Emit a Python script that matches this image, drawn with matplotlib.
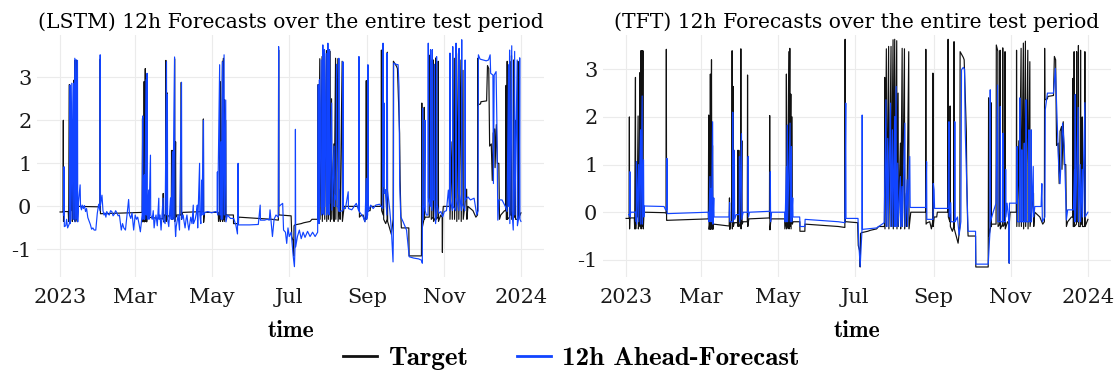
import matplotlib

matplotlib.use("Agg")
import matplotlib.pyplot as plt
import pandas as pd
from matplotlib.lines import Line2D

START = pd.Timestamp("2023-01-01")

# (day since 2023-01-01, value)
target_pts = [
    (0, -0.13), (2.4, -0.13), (2.6, 2.0), (2.75, -0.35), (3.0, -0.12), (6.5, -0.12), (6.8, -0.35),
    (7.4, 2.83), (7.6, -0.35), (8.0, -0.1), (8.7, -0.1), (9.5, 2.02), (9.7, -0.35), (10.3, -0.2),
    (10.9, 2.93), (11.1, -0.3), (11.7, 3.39), (11.9, -0.35), (12.5, 3.39), (12.7, -0.3), (13.3, 3.39),
    (13.6, -0.35), (14.2, 0.0), (30.5, -0.01), (31.6, -0.02), (31.8, 3.42), (32.0, -0.17), (32.5, -0.17),
    (65.0, -0.14), (65.3, 2.04), (65.6, -0.36), (66.3, -0.2), (66.6, 2.9), (66.9, -0.36), (67.5, 3.2),
    (67.8, -0.35), (68.3, 1.4), (68.6, -0.36), (69.0, -0.25), (81.5, -0.29), (81.7, 0.3), (82.0, -0.36),
    (82.5, -0.2), (83.6, -0.2), (83.8, 3.39), (84.0, -0.35), (84.6, 2.64), (84.8, -0.3), (85.5, -0.22),
    (88.1, -0.22), (88.3, 1.3), (88.5, -0.3), (89.1, 1.3), (89.3, -0.3), (90.5, -0.25), (90.7, 3.43),
    (90.9, -0.35), (91.5, 1.5), (91.7, -0.25), (92.5, -0.2), (95.8, -0.2), (96.0, 2.88), (96.2, -0.3),
    (97.0, -0.14), (113.3, -0.12), (113.5, 2.03), (113.7, -0.37), (114.5, -0.14), (125.3, -0.14),
    (125.5, -0.35), (126.5, -0.2), (126.7, 2.9), (126.9, -0.35), (127.5, -0.3), (128.6, 3.37),
    (128.8, -0.35), (129.4, 3.44), (129.6, -0.3), (130.2, 2.48), (130.4, -0.35), (131.2, 2.0),
    (131.4, -0.25), (132.0, -0.2), (137.3, -0.2), (137.4, -0.4), (141.3, -0.4), (141.4, -0.25),
    (167.8, -0.3), (172.9, -0.32), (173.1, 3.63), (173.3, -0.2), (174.0, -0.2), (183.0, -0.22),
    (183.5, -0.7), (184.5, -0.8), (185.0, -1.15), (185.3, -0.45), (186.0, -0.43), (191.0, -0.4),
    (193.0, -0.38), (198.0, -0.35), (199.5, -0.3), (204.2, -0.3), (204.4, 2.83), (204.6, -0.35),
    (205.7, 3.43), (205.9, -0.3), (207.5, 3.48), (207.7, -0.35), (209.4, 3.48), (209.6, -0.3),
    (211.0, 3.62), (211.2, -0.35), (212.3, 3.63), (212.5, -0.3), (213.9, 3.6), (214.1, -0.35),
    (215.0, 2.5), (215.2, -0.3), (216.8, 1.45), (217.0, -0.35), (218.2, 3.44), (218.4, -0.3),
    (220.0, 3.43), (220.2, -0.35), (221.6, 0.4), (221.8, -0.3), (223.4, 3.37), (223.6, -0.35),
    (225.0, 0.0), (236.7, 0.0), (236.9, 3.42), (237.1, -0.25), (238.0, -0.22), (240.0, -0.2),
    (241.3, -0.35), (242.3, -0.2), (242.5, 2.92), (242.7, -0.3), (243.5, -0.1), (245.5, -0.1),
    (246.0, 0.0), (254.3, 0.0), (254.5, 3.63), (254.7, -0.1), (255.9, -0.2), (256.1, 2.23),
    (256.3, -0.3), (257.9, -0.4), (259.0, -0.3), (259.2, 3.58), (259.4, -0.35), (262.4, -0.65),
    (263.8, -0.3), (264.0, 3.37), (266.5, 3.25), (267.2, 3.2), (268.9, 1.7), (269.3, 0.6),
    (270.0, -0.3), (270.3, -0.5), (276.2, -0.5), (276.4, -1.15), (286.2, -1.15), (286.5, 2.4),
    (286.8, -0.5), (288.2, -0.3), (288.4, 2.3), (288.6, -0.3), (289.0, -0.25), (292.4, -0.25),
    (292.6, 3.51), (293.8, 3.38), (294.0, -0.3), (295.4, -0.25), (295.6, 3.4), (295.8, -0.35),
    (297.5, -0.25), (297.7, 3.45), (297.9, -0.3), (299.3, -0.25), (299.5, 3.37), (299.7, -0.35),
    (301.5, -0.2), (302.6, -0.25), (302.8, -1.07), (303.0, -0.2), (303.5, 0.0), (308.4, 0.0),
    (308.6, 3.4), (308.8, -0.3), (310.4, 1.5), (310.6, -0.3), (312.2, 3.44), (312.4, -0.3),
    (314.0, 3.55), (314.2, -0.35), (315.6, 3.59), (315.8, -0.3), (317.5, 3.4), (317.7, -0.35),
    (319.1, 3.16), (319.3, -0.3), (322.0, 0.4), (322.2, -0.3), (323.0, 0.0), (327.0, -0.1),
    (329.3, -0.25), (330.6, -0.2), (330.8, 3.44), (331.0, 2.36), (333.0, 2.38), (333.3, 2.43),
    (337.8, 2.45), (338.5, 3.27), (339.5, 3.2), (340.2, 1.4), (341.5, 1.45), (342.3, 0.6),
    (343.0, 1.7), (344.2, 1.8), (344.5, 0.9), (345.5, 1.9), (346.3, 1.0), (347.5, 1.0), (348.0, -0.3),
    (349.0, -0.2), (352.0, -0.1), (353.0, -0.1), (353.2, 2.81), (353.4, -0.3), (353.9, -0.3),
    (354.1, 3.37), (354.3, -0.3), (355.9, -0.25), (356.1, 3.37), (356.3, -0.2), (357.3, -0.2),
    (357.5, 3.5), (357.7, -0.3), (359.0, -0.3), (359.2, 3.4), (359.4, -0.25), (360.3, -0.25),
    (360.5, 2.0), (360.7, -0.3), (362.4, -0.3), (362.6, 3.37), (362.8, -0.3), (365.0, -0.15),
]

lstm_pts = [
    (2.7, -0.2), (3.2, 0.92), (3.4, -0.47), (4.5, -0.45), (5.2, -0.3), (6.0, -0.5), (7.4, -0.4),
    (8.0, 2.82), (8.2, -0.4), (9.3, 2.86), (9.5, -0.3), (10.6, 2.86), (10.8, -0.3), (11.7, 3.44),
    (11.9, -0.36), (12.7, 3.41), (12.9, -0.3), (13.8, 3.39), (14.0, -0.36), (14.6, 0.1), (15.9, 0.5),
    (16.2, 0.0), (17.0, -0.08), (17.5, 0.03), (18.5, -0.05), (19.3, 0.02), (20.2, -0.12),
    (21.0, -0.05), (22.0, -0.26), (23.2, -0.36), (24.0, -0.42), (25.0, -0.53), (26.0, -0.5),
    (27.0, -0.55), (28.3, -0.55), (29.5, -0.16), (30.6, 0.05), (31.6, -0.1), (31.8, 3.52),
    (32.0, 0.03), (33.2, 0.26), (34.0, -0.1), (34.8, -0.2), (35.5, -0.15), (36.3, -0.25),
    (37.0, -0.12), (38.0, -0.18), (39.0, -0.2), (40.0, -0.1), (41.0, -0.12), (42.0, -0.22),
    (43.0, -0.18), (44.0, -0.1), (45.0, -0.15), (46.0, -0.22), (47.0, -0.2), (48.5, -0.55),
    (49.5, -0.4), (50.5, -0.5), (51.8, -0.55), (53.0, -0.2), (54.3, 0.16), (55.0, -0.2),
    (56.0, -0.28), (57.0, -0.15), (58.3, -0.55), (59.5, -0.2), (60.5, -0.3), (61.5, -0.25),
    (62.5, -0.4), (63.6, -0.59), (65.0, -0.2), (65.5, 2.1), (65.7, -0.3), (66.3, 0.2), (66.8, 0.73),
    (67.0, -0.3), (68.1, 2.94), (68.3, -0.2), (68.9, 3.09), (69.1, -0.3), (70.2, 0.38), (70.4, -0.3),
    (71.6, 1.19), (71.8, -0.2), (73.0, -0.3), (73.8, -0.1), (74.5, -0.5), (75.3, -0.3), (76.0, -0.2),
    (77.0, -0.45), (78.2, 0.19), (78.4, -0.3), (79.2, -0.2), (80.0, -0.55), (81.6, 0.19),
    (81.8, -0.3), (83.2, -0.4), (84.3, 3.36), (84.5, -0.2), (85.0, 2.6), (85.2, -0.3), (86.1, -0.47),
    (87.5, 0.2), (88.0, -0.3), (89.1, 1.27), (89.3, -0.3), (90.7, 3.47), (90.9, -0.3), (91.5, -0.7),
    (92.0, -0.47), (93.5, -0.2), (94.6, -0.55), (96.2, 2.88), (96.4, -0.3), (97.5, -0.2),
    (98.2, -0.35), (99.0, -0.5), (99.8, -0.3), (100.5, -0.2), (101.2, -0.4), (102.0, -0.55),
    (103.5, -0.25), (104.5, -0.4), (105.5, 0.03), (105.7, -0.4), (107.0, -0.3), (108.0, -0.15),
    (108.7, 0.03), (109.0, -0.5), (110.5, 1.0), (110.7, -0.2), (111.5, -0.4), (112.1, 0.61),
    (112.3, -0.2), (113.6, 2.0), (113.8, -0.2), (114.0, -0.15), (117.0, -0.12), (120.0, -0.15),
    (123.0, -0.12), (124.4, -0.15), (124.6, 0.8), (124.8, -0.2), (126.4, 3.29), (126.6, -0.2),
    (127.5, 1.5), (127.7, -0.3), (128.6, 3.36), (128.8, -0.3), (129.9, 3.52), (130.1, -0.2),
    (131.2, 2.47), (131.4, -0.36), (132.5, -0.2), (135.0, -0.28), (137.5, -0.28), (139.2, -0.43),
    (140.5, -0.64), (141.0, 1.0), (141.2, -0.43), (150.0, -0.43), (157.0, -0.42), (158.5, 0.03),
    (158.7, -0.32), (162.0, -0.32), (164.0, -0.3), (165.7, -0.32), (166.3, -0.08), (168.2, -0.7),
    (169.5, -0.3), (171.0, -0.2), (172.9, -0.25), (173.1, 3.71), (173.3, 0.0), (176.3, 0.07),
    (177.0, -0.55), (178.5, -0.6), (179.5, -0.86), (180.5, -0.5), (181.5, -0.7), (183.0, -0.6),
    (184.7, -1.17), (185.6, -1.4), (186.2, -0.8), (186.4, 1.79), (186.6, -0.94), (188.0, -0.7),
    (189.5, -0.55), (191.0, -0.75), (192.5, -0.6), (194.0, -0.72), (196.0, -0.58), (198.0, -0.7),
    (200.0, -0.6), (202.0, -0.7), (204.0, -0.6), (204.5, 2.82), (204.7, -0.3), (205.2, -0.4),
    (205.4, 2.94), (205.6, -0.01), (206.8, 3.4), (207.0, -0.2), (207.9, -0.1), (208.1, 3.75),
    (208.3, -0.16), (209.2, -0.2), (209.4, 3.64), (209.6, 0.0), (210.8, 3.55), (211.0, -0.2),
    (211.9, -0.1), (212.1, 3.79), (212.3, -0.1), (213.2, -0.2), (213.4, 3.64), (213.6, 0.07),
    (215.1, 2.4), (215.3, -0.09), (217.0, 1.4), (217.2, 0.0), (217.4, 0.26), (218.5, 0.15),
    (219.0, 3.3), (219.2, 0.0), (220.0, 0.0), (220.6, -0.1), (220.8, 3.44), (221.0, -0.12),
    (223.8, -0.1), (224.0, 3.36), (224.2, -0.05), (226.0, -0.05), (228.2, 0.34), (228.4, -0.05),
    (231.0, -0.08), (234.6, 0.07), (236.5, -0.1), (236.7, 3.48), (236.9, -0.12), (240.0, -0.24),
    (241.5, -0.36), (242.5, 0.65), (242.8, -0.3), (243.6, -0.2), (243.8, 3.29), (244.0, -0.12),
    (246.0, 0.03), (248.0, -0.05), (250.0, 0.03), (253.0, 0.05), (255.6, -0.05), (255.8, 3.79),
    (256.0, 0.46), (256.6, 2.4), (256.8, 0.3), (257.5, 0.39), (258.8, -0.2), (259.0, 3.56),
    (259.2, 0.38), (260.0, 0.2), (261.1, -0.08), (262.4, -0.55), (263.7, -1.29), (264.0, -0.5),
    (264.2, 3.33), (266.0, 3.3), (267.7, 3.29), (268.4, 2.78), (269.0, 0.5), (269.8, -0.24),
    (271.7, -0.36), (274.4, -0.55), (276.5, -1.17), (280.0, -1.2), (284.0, -1.22), (286.2, -1.25),
    (286.9, -1.32), (287.1, 2.28), (287.3, -0.32), (288.5, 0.07), (289.0, 2.0), (289.2, -0.1),
    (290.0, -0.2), (291.4, -0.2), (291.6, 3.79), (291.8, 0.2), (293.2, 0.0), (293.4, 3.64),
    (293.6, 0.1), (294.6, -0.1), (294.8, 3.64), (295.0, 0.15), (296.0, 0.15), (296.5, 3.3),
    (296.7, 0.0), (297.4, -0.4), (298.0, -0.2), (298.2, 3.48), (298.4, 0.07), (300.0, -0.16),
    (301.6, -0.12), (303.0, -0.24), (304.3, -0.12), (306.0, -0.1), (307.5, 0.38), (308.6, -0.1),
    (308.8, 3.56), (309.0, 0.15), (310.8, -0.1), (311.0, 3.71), (311.2, 0.0), (313.4, -0.1),
    (313.6, 3.79), (313.8, 0.22), (315.8, -0.1), (316.0, 3.67), (316.2, 0.3), (317.9, -0.1),
    (318.1, 3.87), (318.3, 0.07), (320.6, -0.1), (320.8, 3.4), (321.0, 0.15), (323.0, 0.22),
    (325.0, 0.15), (327.9, 0.19), (330.0, -0.2), (331.1, -0.1), (331.3, 3.52), (332.6, 3.42),
    (335.0, 3.4), (337.5, 3.38), (339.3, 3.4), (340.6, 3.52), (341.0, 3.09), (342.8, 3.05),
    (343.2, 0.53), (343.8, 3.05), (345.3, 3.13), (345.9, 2.0), (346.7, -0.32), (347.5, 0.15),
    (350.0, 0.15), (352.6, 0.0), (354.0, -0.12), (355.2, 3.29), (355.4, 0.0), (356.0, 3.63),
    (356.2, -0.4), (357.7, 3.73), (357.9, -0.1), (358.9, -0.55), (360.0, 3.6), (360.2, -0.2),
    (362.0, 3.4), (362.2, -0.45), (363.6, -0.2), (364.0, 3.45), (364.2, -0.3), (365.0, -0.35),
]

tft_pts = [
    (2.0, -0.05), (2.8, -0.05), (3.0, 0.85), (3.2, -0.1), (3.6, 0.0), (7.8, 0.0), (8.0, -0.2),
    (8.2, 1.06), (8.4, -0.25), (9.8, 1.0), (10.0, -0.2), (11.4, 1.73), (11.6, -0.25), (12.7, 2.44),
    (12.9, -0.25), (13.8, 1.1), (14.0, -0.1), (14.5, 0.13), (30.0, 0.12), (31.2, 0.05), (32.0, 0.05),
    (32.3, 1.13), (32.5, -0.03), (65.0, 0.0), (65.5, -0.2), (66.3, 0.75), (66.5, -0.2), (67.2, 0.5),
    (67.4, -0.2), (68.4, 1.9), (68.6, -0.25), (69.3, 0.3), (69.5, -0.1), (81.4, -0.1), (81.8, 0.2),
    (82.0, -0.2), (84.1, -0.2), (84.3, 2.1), (84.5, -0.2), (85.6, 1.3), (85.8, -0.15), (87.0, -0.05),
    (89.4, -0.05), (89.6, 1.17), (89.8, -0.2), (91.2, 1.65), (91.4, -0.15), (92.5, 0.0), (96.3, 0.0),
    (96.5, 1.17), (96.7, -0.1), (97.5, 0.0), (113.8, 0.02), (114.0, 0.85), (114.2, -0.2), (115.0, 0.0),
    (125.5, 0.0), (125.7, -0.2), (126.7, 0.95), (126.9, -0.2), (127.5, 1.83), (127.7, -0.2),
    (129.6, 1.87), (129.8, -0.2), (130.7, 1.38), (130.9, -0.2), (131.7, 0.3), (131.9, -0.1),
    (137.2, -0.1), (137.5, -0.3), (141.3, -0.3), (141.5, -0.15), (167.8, -0.2), (172.9, -0.22),
    (173.6, 2.29), (173.8, -0.13), (183.3, -0.13), (183.8, -0.6), (185.0, -1.14), (186.4, -0.4),
    (186.6, 2.04), (186.8, -0.36), (198.0, -0.33), (204.0, -0.22), (205.4, 2.36), (205.6, -0.3),
    (206.8, 1.55), (207.0, -0.3), (209.0, 2.29), (209.2, -0.3), (210.5, 1.73), (210.7, -0.3),
    (212.3, 2.01), (212.5, -0.3), (213.4, 2.64), (213.6, -0.3), (214.7, 1.03), (214.9, -0.3),
    (216.8, 0.75), (217.0, -0.3), (218.1, 0.54), (218.3, -0.3), (220.3, 1.87), (220.5, -0.3),
    (222.1, 0.68), (222.3, -0.3), (224.2, 1.17), (224.5, 0.1), (236.9, 0.1), (237.5, 1.06),
    (237.7, -0.15), (242.6, -0.15), (242.8, 0.6), (243.4, 0.47), (243.8, 0.08), (254.5, 0.08),
    (255.2, 1.9), (255.4, -0.1), (256.6, 0.2), (256.8, -0.2), (259.6, -0.2), (259.8, 1.9),
    (260.0, -0.2), (261.9, -0.1), (263.2, -0.48), (264.6, -0.2), (265.1, 2.99), (266.5, 3.04),
    (267.5, 3.0), (268.0, 1.73), (270.0, -0.1), (270.3, -0.4), (276.2, -0.4), (276.4, -1.09),
    (286.2, -1.09), (287.6, -0.4), (287.8, 2.57), (288.0, -0.2), (290.1, 0.0), (292.4, 0.19),
    (293.6, 2.67), (293.8, -0.2), (295.6, -0.2), (295.8, 2.22), (296.0, -0.2), (297.7, -0.2),
    (297.9, 1.66), (298.1, -0.2), (299.8, -0.2), (300.0, 0.9), (300.2, -0.1), (301.1, 0.19),
    (302.6, -0.2), (302.8, -1.07), (303.0, 0.19), (308.8, 0.19), (309.1, 1.38), (309.3, -0.2),
    (311.0, -0.2), (311.2, 2.4), (311.4, -0.2), (312.6, -0.2), (312.8, 1.31), (313.0, -0.2),
    (314.5, -0.2), (314.7, 1.45), (314.9, -0.2), (316.0, -0.2), (316.2, 2.36), (316.4, -0.2),
    (318.2, -0.2), (318.4, 1.73), (318.6, -0.2), (320.0, -0.2), (320.2, 1.73), (320.4, -0.2),
    (321.8, 0.96), (322.0, -0.1), (322.8, 0.05), (323.0, 0.12), (328.0, 0.12), (328.6, 0.6),
    (329.0, -0.2), (331.0, -0.1), (331.3, 2.15), (333.0, 2.5), (337.8, 2.5), (339.3, 3.02),
    (340.9, 1.73), (342.0, 0.89), (343.0, 0.6), (345.0, 1.87), (346.3, 1.38), (348.0, -0.16),
    (349.0, 0.05), (353.5, 0.05), (354.4, 0.89), (354.6, -0.2), (355.0, 2.47), (355.2, -0.2),
    (357.3, 2.2), (357.5, -0.2), (359.0, 1.0), (359.2, -0.2), (360.5, 0.9), (360.7, -0.1),
    (362.6, 2.3), (362.8, -0.1), (365.0, 0.0),
]

tick_days = [0, 59, 120, 181, 243, 304, 365]
tick_labels = ["2023", "Mar", "May", "Jul", "Sep", "Nov", "2024"]

panels = [
    ("(LSTM) 12h Forecasts over the entire test period", lstm_pts, (-1.64, 3.98)),
    ("(TFT) 12h Forecasts over the entire test period", tft_pts, (-1.36, 3.72)),
]

TARGET_COLOR = "#111111"
FORECAST_COLOR = "#1144ff"
GRID_COLOR = "#ebebeb"


def _to_xy(points):
    days = [p[0] for p in points]
    values = [p[1] for p in points]
    return START + pd.to_timedelta(days, unit="D"), values


plt.rcParams["font.family"] = "DejaVu Serif"
plt.rcParams["axes.unicode_minus"] = False

fig = plt.figure(figsize=(11.2, 3.74), dpi=100)
W, H = 1120, 374
axes_px = [(37, 35, 507, 242), (603, 35, 508, 242)]

tx, ty = _to_xy(target_pts)
tick_dates = START + pd.to_timedelta(tick_days, unit="D")
x_lo = START + pd.Timedelta(days=-18.25)
x_hi = START + pd.Timedelta(days=383.25)

for (title, pts, ylim), (x0, y0, w, h) in zip(panels, axes_px):
    ax = fig.add_axes([x0 / W, 1 - (y0 + h) / H, w / W, h / H])
    fx, fy = _to_xy(pts)
    ax.plot(tx, ty, color=TARGET_COLOR, lw=0.85)
    ax.plot(fx, fy, color=FORECAST_COLOR, lw=0.85)
    ax.set_xlim(x_lo, x_hi)
    ax.set_ylim(*ylim)
    ax.set_xticks(tick_dates)
    ax.set_xticklabels(tick_labels)
    ax.set_yticks([-1, 0, 1, 2, 3])
    ax.set_yticklabels(["-1", "0", "1", "2", "3"])
    ax.tick_params(length=0, labelsize=15, colors="#1a1a1a")
    ax.tick_params(axis="x", pad=8)
    ax.tick_params(axis="y", pad=4)
    ax.grid(True, color=GRID_COLOR, lw=0.8)
    ax.set_axisbelow(True)
    for spine in ax.spines.values():
        spine.set_visible(False)
    ax.set_title(title, fontsize=14.6, pad=5)
    ax.set_xlabel("time", fontfamily="cmb10", fontsize=17, labelpad=9)

handles = [
    Line2D([], [], color=TARGET_COLOR, lw=2),
    Line2D([], [], color=FORECAST_COLOR, lw=2),
]
fig.legend(
    handles,
    ["Target", "12h Ahead-Forecast"],
    loc="center",
    bbox_to_anchor=(0.51, 1 - 358 / H),
    ncol=2,
    frameon=False,
    prop={"family": "cmb10", "size": 19.5},
    handlelength=1.25,
    handletextpad=0.4,
    columnspacing=1.8,
)

fig.savefig("out.png", dpi=100)
